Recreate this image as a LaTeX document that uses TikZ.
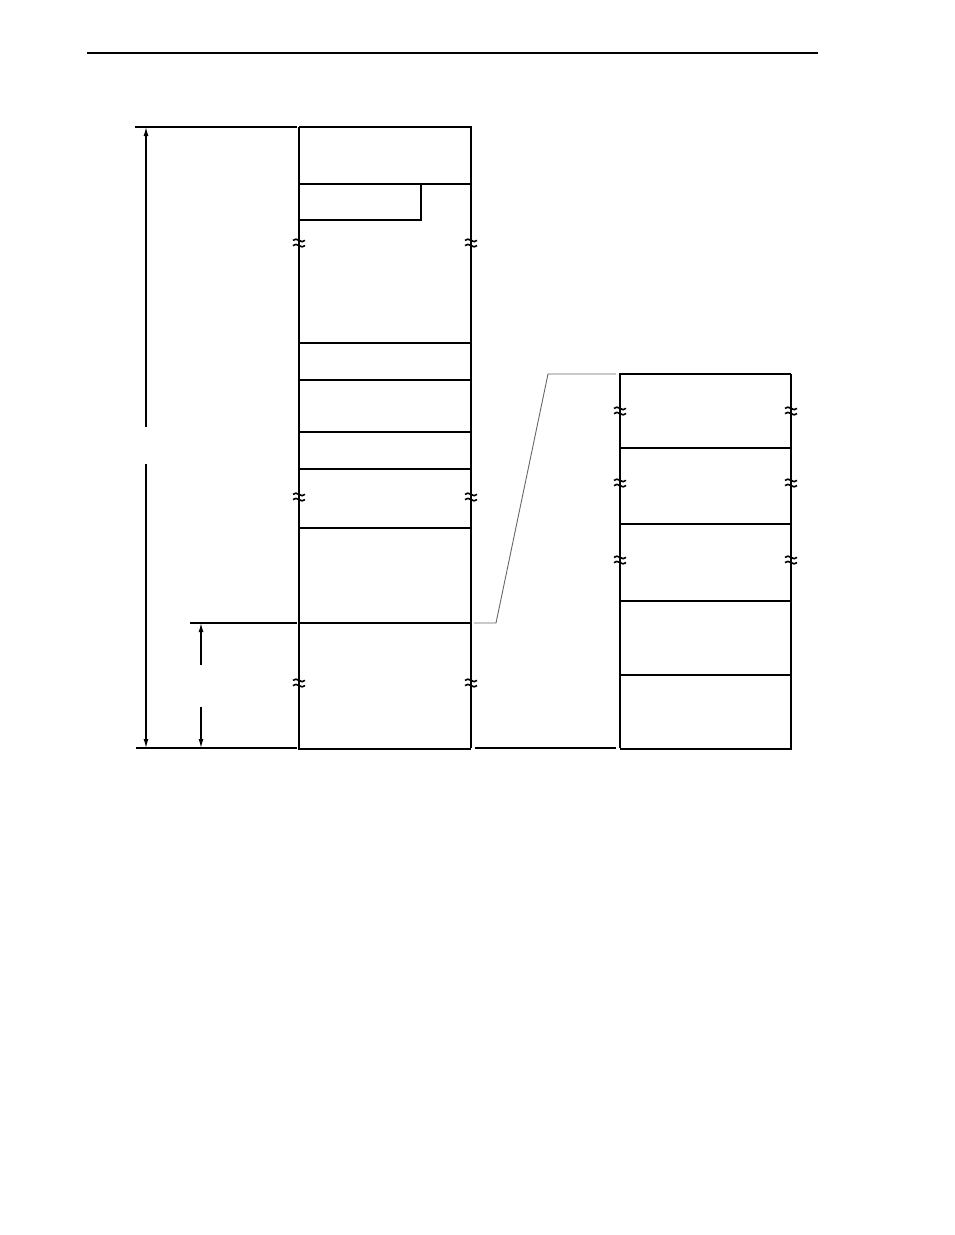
\documentclass[tikz,border=0pt]{standalone}
\usetikzlibrary{arrows.meta}
\tikzset{
  thinln/.style={line width=1.3pt},
  thickln/.style={line width=2.4pt},
  linkln/.style={line width=0.9pt, draw=black!60},
  dimarrow/.style={line width=1.3pt, -{Latex[length=9pt,width=5pt]}},
  brk/.pic={
    \draw[line width=1.6pt] (-6,-2.6) .. controls (-2.5,-7) and (2.5,1.8) .. (6,-2.6);
    \draw[line width=1.6pt] (-6,2.6) .. controls (-2.5,-1.8) and (2.5,7) .. (6,2.6);
  }
}
\begin{document}
\begin{tikzpicture}[x=1pt,y=-1pt]
\useasboundingbox (0,0) rectangle (954,1235);
% header rule
\draw[thinln] (87,53) -- (818,53);

% ---------- main column ----------
\draw[thinln] (299,127) -- (471,127) -- (471,748);
\draw[thickln] (299,127) -- (299,749) -- (471,749);
\foreach \yy in {184,343,380,432,469,528,623}
  \draw[thinln] (299,\yy) -- (471,\yy);
% small inner box
\draw[thinln] (299,220) -- (421,220) -- (421,184);
% break marks
\foreach \yy in {243,497,683}{
  \pic at (299,\yy) {brk};
  \pic at (471,\yy) {brk};
}

% extension lines
\draw[thinln] (135,127) -- (297,127);
\draw[thinln] (136,748) -- (297,748);
\draw[thinln] (190,623) -- (297,623);

% dimension arrows
\coordinate (bigtop) at (146,127);
\coordinate (bigbot) at (146,748);
\coordinate (bigga) at (146,427);
\coordinate (biggb) at (146,464);
\draw[dimarrow] (bigga) -- (bigtop);
\draw[dimarrow] (biggb) -- (bigbot);
\coordinate (smtop) at (201,623);
\coordinate (smbot) at (201,748);
\coordinate (smga) at (201,665);
\coordinate (smgb) at (201,707);
\draw[dimarrow] (smga) -- (smtop);
\draw[dimarrow] (smgb) -- (smbot);

% ---------- zoom connector ----------
\coordinate (la) at (474,623);
\coordinate (lb) at (496,623);
\coordinate (lc) at (548,374);
\coordinate (ld) at (616,374);
\draw[linkln] (la) -- (lb) -- (lc) -- (ld);
\draw[thinln] (475,748) -- (616,748);

% ---------- right column ----------
\draw[thinln] (791,374) -- (620,374) -- (620,748);
\draw[thickln] (620,749) -- (791,749) -- (791,374);
\foreach \yy in {448,524,601,675}
  \draw[thinln] (620,\yy) -- (791,\yy);
\foreach \yy in {411,483,560}{
  \pic at (620,\yy) {brk};
  \pic at (791,\yy) {brk};
}
\end{tikzpicture}
\end{document}
